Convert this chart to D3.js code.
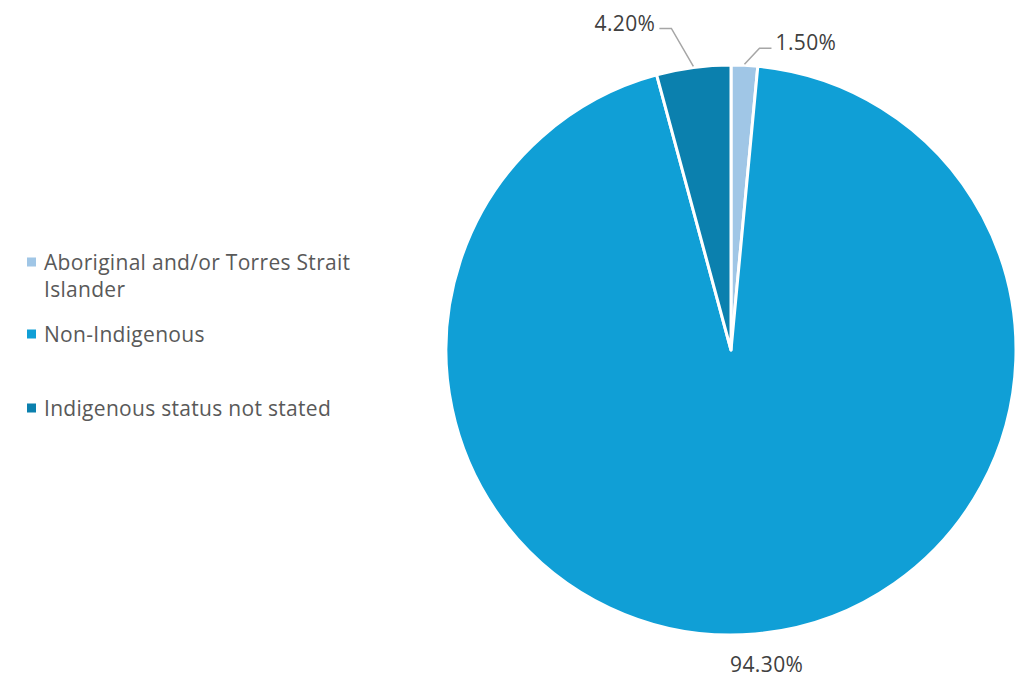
<!DOCTYPE html>
<html>
<head>
<meta charset="utf-8">
<script src="https://cdn.jsdelivr.net/npm/d3@7"></script>
<style>
  html, body { margin: 0; padding: 0; background: #fff; }
  svg { display: block; }
</style>
</head>
<body>
<svg id="chart" width="1024" height="677"></svg>
<script>
// Indigenous status breakdown (percent)
const categories = ["Aboriginal and/or Torres Strait Islander", "Non-Indigenous", "Indigenous status not stated"];
const values = [1.5, 94.3, 4.2];
const valueLabels = ["1.50%", "94.30%", "4.20%"];
const colors = ["#a0c6e6", "#109fd6", "#0b80ae"];

const svg = d3.select("#chart");
const cx = 731, cy = 350, radius = 285;
const font = "'Open Sans', 'Noto Sans', sans-serif";
const fontSize = 21;

const data = categories.map((c, i) => ({ name: c, value: values[i], label: valueLabels[i], color: colors[i] }));

const pie = d3.pie().sort(null).value(d => d.value);
const arcs = pie(data);
const arc = d3.arc().innerRadius(0).outerRadius(radius);

const g = svg.append("g").attr("transform", `translate(${cx},${cy})`);

g.selectAll("path.slice")
  .data(arcs)
  .join("path")
  .attr("class", "slice")
  .attr("d", arc)
  .attr("fill", d => d.data.color)
  .attr("stroke", "#fff")
  .attr("stroke-width", 3)
  .attr("stroke-linejoin", "round");

// Point on a circle at angle a (clockwise from 12 o'clock)
const polar = (a, r) => [Math.sin(a) * r, -Math.cos(a) * r];

// Data labels, with leader lines for the small slices
arcs.forEach(d => {
  const mid = (d.startAngle + d.endAngle) / 2;
  if (d.data.value > 50) {
    const [x, y] = polar(mid, radius + 30);
    g.append("text")
      .attr("x", x + 9).attr("y", y)
      .attr("text-anchor", "middle")
      .attr("dominant-baseline", "central")
      .attr("font-family", font).attr("font-size", fontSize)
      .attr("letter-spacing", 0.4)
      .attr("fill", "#404040")
      .text(d.data.label);
    return;
  }
  const right = Math.sin(mid) > 0;
  const p0 = polar(mid, radius + 1);
  let elbow, end, tx, anchor;
  if (right) {
    elbow = [p0[0] + 15, p0[1] - 16];
    end = [elbow[0] + 12, elbow[1]];
    tx = end[0] + 4; anchor = "start";
  } else {
    elbow = [p0[0] - 22, p0[1] - 38];
    end = [elbow[0] - 12, elbow[1]];
    tx = end[0] - 4; anchor = "end";
  }
  g.append("polyline")
    .attr("points", [p0, elbow, end].map(p => p.join(",")).join(" "))
    .attr("fill", "none")
    .attr("stroke", "#a6a6a6")
    .attr("stroke-width", 1.5);
  g.append("text")
    .attr("x", tx).attr("y", end[1] - 6)
    .attr("text-anchor", anchor)
    .attr("dominant-baseline", "central")
    .attr("font-family", font).attr("font-size", fontSize)
    .attr("letter-spacing", 0.4)
    .attr("fill", "#404040")
    .text(d.data.label);
});

// Legend
const legendItems = [
  { lines: ["Aboriginal and/or Torres Strait", "Islander"], y: 262 },
  { lines: ["Non-Indigenous"], y: 334 },
  { lines: ["Indigenous status not stated"], y: 408 }
];
const legend = svg.append("g");
legendItems.forEach((item, i) => {
  legend.append("rect")
    .attr("x", 27).attr("y", item.y - 4.5)
    .attr("width", 9).attr("height", 9)
    .attr("fill", colors[i]);
  item.lines.forEach((line, j) => {
    legend.append("text")
      .attr("x", 44).attr("y", item.y + j * 27)
      .attr("dominant-baseline", "central")
      .attr("font-family", font).attr("font-size", fontSize)
      .attr("letter-spacing", 0.3)
      .attr("fill", "#595959")
      .text(line);
  });
});
</script>
</body>
</html>
